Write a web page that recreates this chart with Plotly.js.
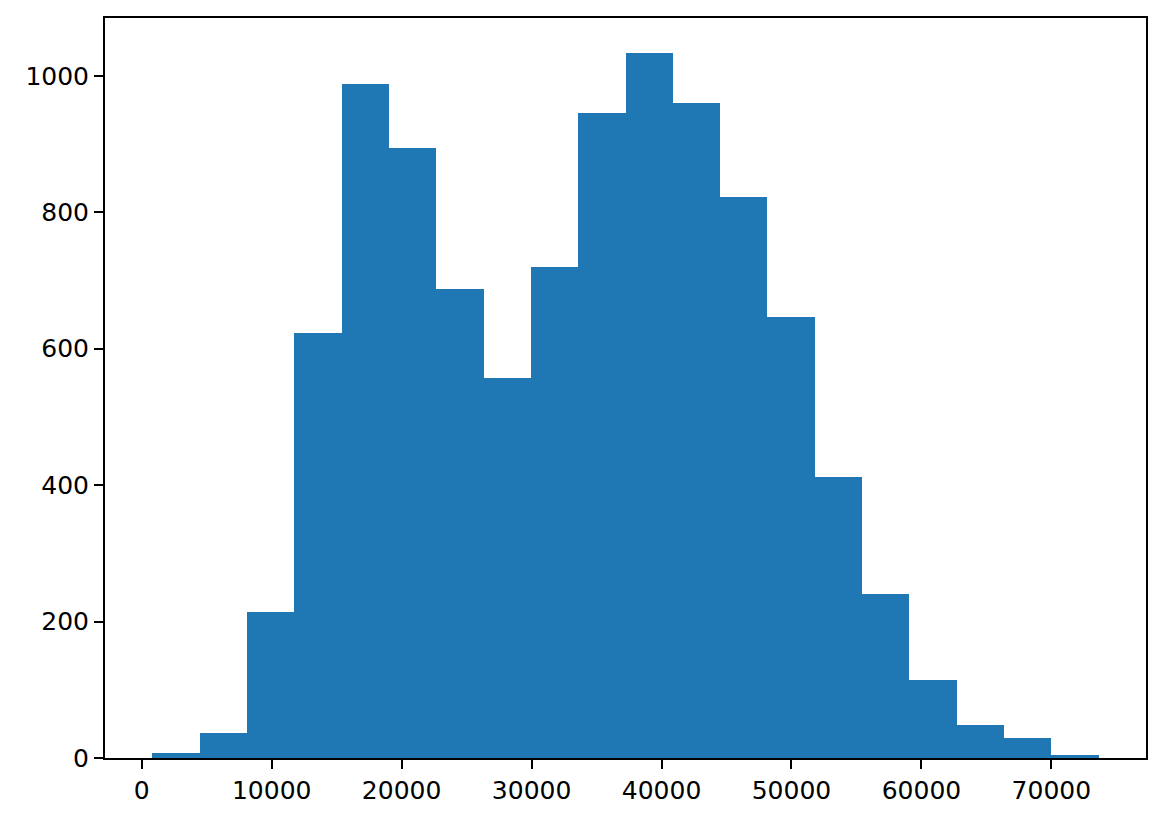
<!DOCTYPE html>
<html>
<head>
<meta charset="utf-8">
<script src="https://cdn.plot.ly/plotly-3.0.1.min.js"></script>
<style>html,body{margin:0;padding:0;background:#fff;}#chart{width:1166px;height:822px;}</style>
</head>
<body>
<div id="chart"></div>
<script>
// Histogram bin edges (21 edges, 20 bins) and counts
const binEdges = [815, 4456, 8098, 11739, 15380, 19021, 22663, 26304, 29945, 33586, 37228,
                  40869, 44510, 48151, 51793, 55434, 59075, 62716, 66358, 69999, 73640];
const counts = [7, 36, 214, 623, 988, 894, 688, 557, 720, 945,
                1033, 960, 822, 646, 412, 240, 115, 48, 29, 5];
const xTicks = [0, 10000, 20000, 30000, 40000, 50000, 60000, 70000];
const yTicks = [0, 200, 400, 600, 800, 1000];

const centers = counts.map((_, i) => (binEdges[i] + binEdges[i + 1]) / 2);
const widths = counts.map((_, i) => binEdges[i + 1] - binEdges[i]);

const xMin = binEdges[0], xMax = binEdges[binEdges.length - 1];
const xPad = (xMax - xMin) * 0.05;
const yMax = Math.max(...counts) * 1.05;

const trace = {
  type: 'bar',
  x: centers,
  y: counts,
  width: widths,
  marker: {color: '#1f77b4', line: {width: 0}},
  hoverinfo: 'x+y'
};

const axisCommon = {
  showgrid: false,
  zeroline: false,
  showline: true,
  linecolor: '#000',
  linewidth: 2,
  mirror: true,
  ticks: 'outside',
  ticklen: 9,
  tickwidth: 2,
  tickcolor: '#000',
  tickfont: {family: 'DejaVu Sans', size: 25, color: '#000'}
};

const layout = {
  width: 1166,
  height: 822,
  margin: {l: 105, r: 20, t: 18, b: 64, pad: 0},
  paper_bgcolor: '#fff',
  plot_bgcolor: '#fff',
  showlegend: false,
  bargap: 0,
  xaxis: Object.assign({}, axisCommon, {
    range: [xMin - xPad, xMax + xPad],
    tickmode: 'array',
    tickvals: xTicks,
    ticktext: xTicks.map(String)
  }),
  yaxis: Object.assign({}, axisCommon, {
    range: [0, yMax],
    tickmode: 'array',
    tickvals: yTicks,
    ticktext: yTicks.map(String)
  })
};

Plotly.newPlot('chart', [trace], layout, {displayModeBar: false, staticPlot: true});
</script>
</body>
</html>
